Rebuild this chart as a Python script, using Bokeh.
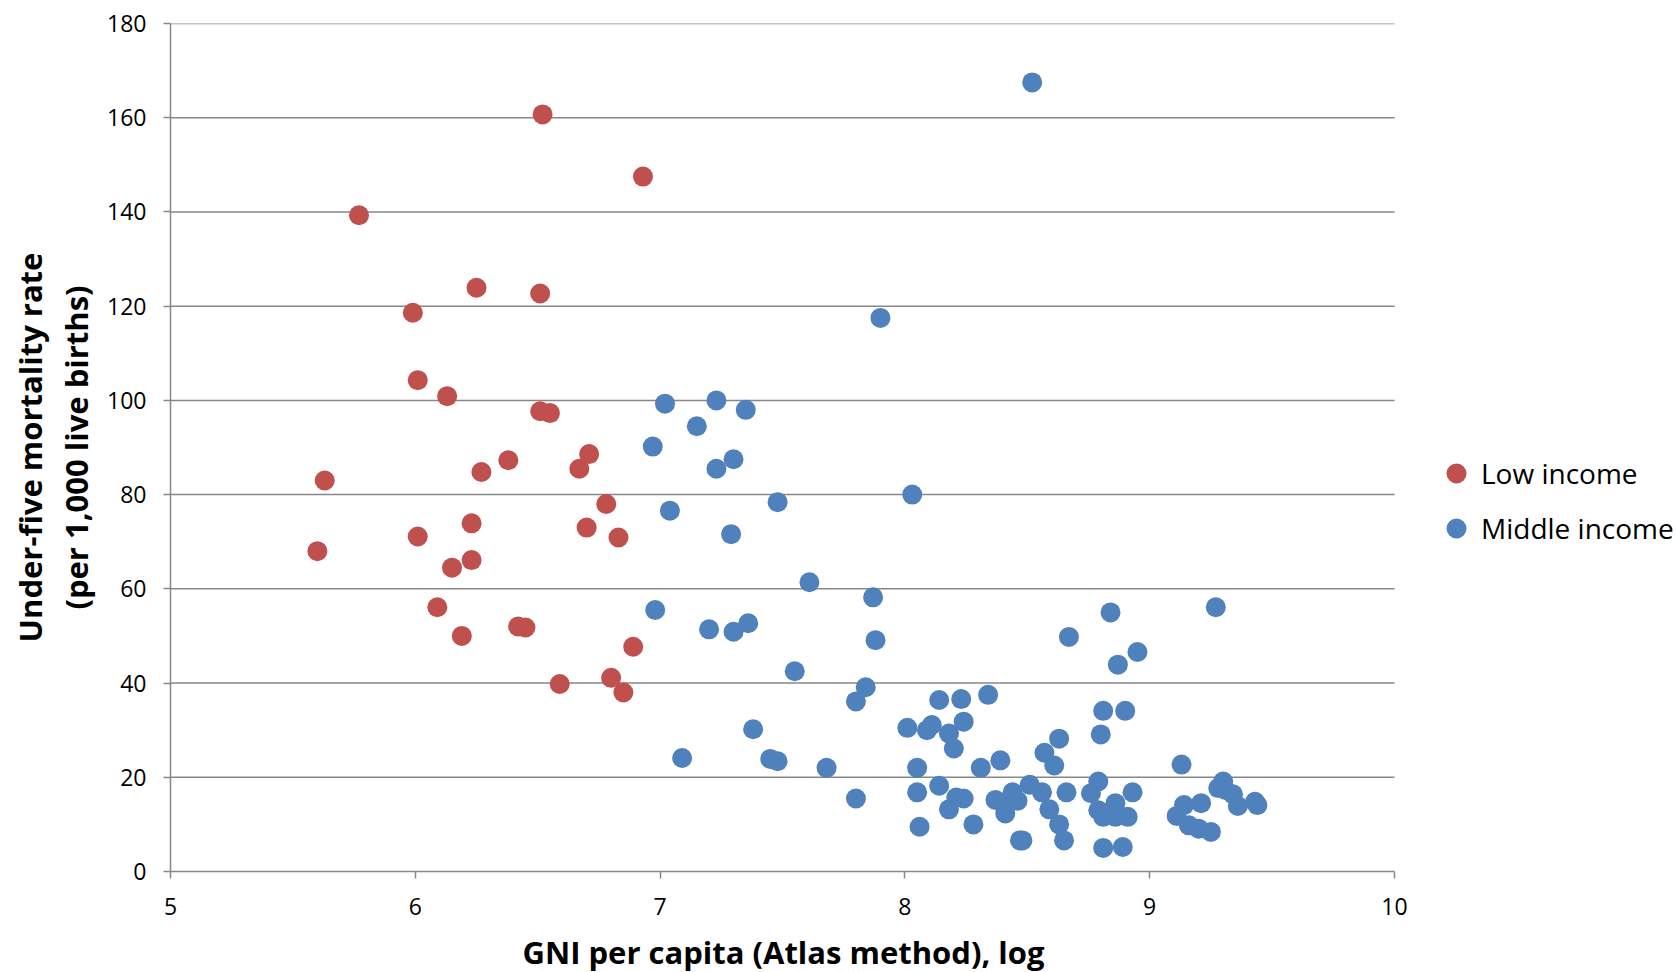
from bokeh.plotting import figure
from bokeh.models import ColumnDataSource, Legend, LegendItem, FixedTicker, Title
from bokeh.embed import file_html
from bokeh.resources import INLINE

# Low income countries: log GNI per capita, under-five mortality
low_x = [5.60, 5.63, 5.77, 5.99, 6.01, 6.01, 6.09, 6.13, 6.15, 6.19, 6.23, 6.23,
         6.25, 6.27, 6.38, 6.42, 6.45, 6.51, 6.51, 6.52, 6.55, 6.59, 6.67, 6.70,
         6.71, 6.78, 6.80, 6.83, 6.85, 6.89, 6.93]
low_y = [68.0, 83.0, 139.3, 118.6, 104.3, 71.1, 56.1, 100.9, 64.5, 50.0, 73.9, 66.1,
         123.9, 84.8, 87.3, 52.0, 51.8, 122.7, 97.7, 160.7, 97.3, 39.8, 85.5, 73.0,
         88.6, 78.0, 41.1, 70.9, 38.0, 47.7, 147.5]

# Middle income countries
mid_x = [8.52, 7.90, 8.03, 7.02, 7.23, 7.35, 7.15, 6.97, 7.23, 7.30, 7.04, 7.29,
         7.48, 6.98, 7.20, 7.30, 7.36, 7.61, 7.87, 7.88, 7.55, 7.84, 7.80, 7.09,
         7.38, 7.45, 7.48, 7.68, 7.80, 8.01, 8.09, 8.11, 8.14, 8.23, 8.18, 8.20,
         8.24, 8.34, 8.05, 8.05, 8.06, 8.14, 8.18, 8.21, 8.24, 8.28, 8.31, 8.39,
         8.37, 8.41, 8.43, 8.44, 8.46, 8.47, 8.48, 8.51, 8.56, 8.57, 8.59, 8.61,
         8.63, 8.63, 8.65, 8.66, 8.67, 8.76, 8.79, 8.79, 8.80, 8.81, 8.81, 8.81,
         8.84, 8.86, 8.86, 8.87, 8.89, 8.90, 8.91, 8.93, 8.95, 9.11, 9.13, 9.14,
         9.16, 9.20, 9.21, 9.25, 9.27, 9.28, 9.30, 9.31, 9.34, 9.36, 9.43, 9.44]
mid_y = [167.5, 117.5, 80.0, 99.3, 100.0, 98.0, 94.5, 90.2, 85.5, 87.5, 76.6, 71.6,
         78.4, 55.5, 51.4, 50.9, 52.7, 61.4, 58.2, 49.1, 42.5, 39.1, 36.1, 24.1,
         30.2, 23.9, 23.4, 22.0, 15.5, 30.5, 30.0, 31.1, 36.4, 36.6, 29.3, 26.1,
         31.8, 37.5, 22.0, 16.8, 9.5, 18.2, 13.2, 15.7, 15.5, 10.0, 22.0, 23.6,
         15.2, 12.3, 15.0, 16.8, 15.0, 6.6, 6.6, 18.4, 16.8, 25.2, 13.2, 22.5,
         28.2, 10.0, 6.6, 16.8, 49.8, 16.6, 19.1, 13.0, 29.1, 34.1, 11.6, 5.0,
         55.0, 11.6, 14.5, 43.9, 5.2, 34.1, 11.6, 16.8, 46.6, 11.8, 22.7, 14.1,
         9.8, 9.1, 14.5, 8.4, 56.1, 17.7, 19.1, 17.3, 16.4, 13.9, 14.8, 14.1]

x_ticks = [5, 6, 7, 8, 9, 10]
y_ticks = [0, 20, 40, 60, 80, 100, 120, 140, 160, 180]
series_names = ["Low income", "Middle income"]
x_title = "GNI per capita (Atlas method), log"
y_title = "Under-five mortality rate\n(per 1,000 live births)"

FONT = "Open Sans"
GRID = "#878787"

LEFT = 170
X_MIN, X_MAX_AXIS = x_ticks[0], x_ticks[-1]
px_per_unit = (1394 - LEFT) / (X_MAX_AXIS - X_MIN)
x_end = X_MIN + (1677 - LEFT) / px_per_unit  # frame runs to the right edge; legend lives there

p = figure(width=1677, height=972, output_backend="svg", toolbar_location=None,
           x_range=(X_MIN, x_end), y_range=(y_ticks[0], y_ticks[-1]),
           min_border_left=LEFT, min_border_right=0, min_border_top=23,
           min_border_bottom=101)
p.outline_line_color = None
p.background_fill_color = "white"
p.border_fill_color = "white"

# horizontal gridlines spanning only the plot area (x from 5 to 10)
grid_y = y_ticks[1:]
p.segment(x0=[X_MIN] * len(grid_y), x1=[X_MAX_AXIS] * len(grid_y), y0=grid_y, y1=grid_y,
          line_color=GRID, line_width=1.5)

r_low = p.scatter(x="x", y="y", source=ColumnDataSource(dict(x=low_x, y=low_y)),
                  size=20, fill_color="#C0504D", line_color=None)
r_mid = p.scatter(x="x", y="y", source=ColumnDataSource(dict(x=mid_x, y=mid_y)),
                  size=20, fill_color="#4F81BD", line_color=None)

for ax in (p.xaxis[0], p.yaxis[0]):
    ax.axis_line_color = GRID
    ax.axis_line_width = 1.5
    ax.major_tick_line_color = GRID
    ax.major_tick_line_width = 1.5
    ax.major_tick_out = 7
    ax.major_tick_in = 0
    ax.minor_tick_line_color = None
    ax.major_label_text_font = FONT
    ax.major_label_text_font_size = "23px"
    ax.major_label_text_color = "#000000"
    ax.axis_label_text_font = FONT
    ax.axis_label_text_font_style = "bold"
    ax.axis_label_text_font_size = "31px"
    ax.axis_label_text_color = "#000000"

p.xaxis.bounds = (X_MIN, X_MAX_AXIS)
p.xaxis.ticker = FixedTicker(ticks=x_ticks)
p.yaxis.ticker = FixedTicker(ticks=y_ticks)
p.xaxis.major_label_standoff = 19
p.yaxis.major_label_standoff = 17
p.yaxis.axis_label = y_title
p.yaxis.axis_label_text_line_height = 1.1
p.yaxis.axis_label_standoff = 7
# blank spacer label below the tick labels (pushes the x title down a little)
p.xaxis.axis_label = " "
p.xaxis.axis_label_text_font_size = "6px"
p.xaxis.axis_label_standoff = 0

p.xgrid.grid_line_color = None
p.ygrid.grid_line_color = None

# x-axis title centred under the 5..10 plot area
xt = Title(text=x_title, align="left", offset=352, text_font=FONT,
           text_font_style="bold", text_font_size="31px", text_color="#000000",
           standoff=0)
p.add_layout(xt, "below")

legend = Legend(items=[LegendItem(label=series_names[0], renderers=[r_low]),
                       LegendItem(label=series_names[1], renderers=[r_mid])],
                location=(1261, 318), orientation="vertical",
                border_line_color=None, background_fill_alpha=0,
                padding=0, margin=0, spacing=5,
                glyph_width=50, glyph_height=50, label_standoff=0,
                label_text_font=FONT, label_text_font_size="28px",
                label_text_color="#000000")
p.add_layout(legend, "center")

open("out.html", "w").write(file_html(p, INLINE))
